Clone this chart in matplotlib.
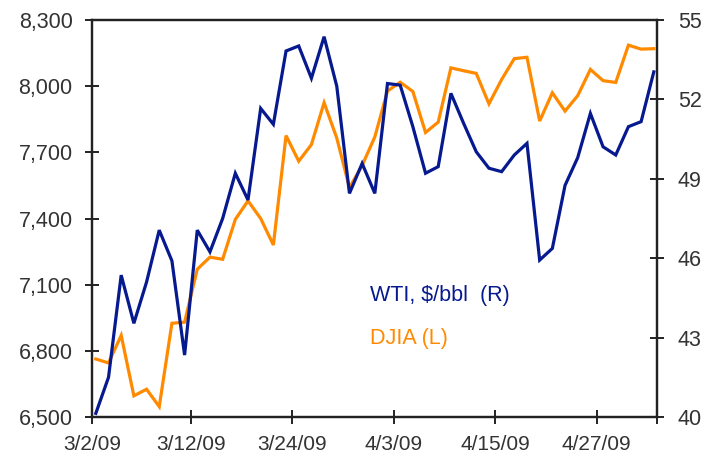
import matplotlib
matplotlib.use('Agg')
import matplotlib.pyplot as plt
import numpy as np

plt.rcParams['font.family'] = ['Liberation Sans', 'DejaVu Sans']

# trading days, 3/2/09 - 5/1/09
dates = ['3/2/09', '3/3/09', '3/4/09', '3/5/09', '3/6/09', '3/9/09', '3/10/09', '3/11/09',
         '3/12/09', '3/13/09', '3/16/09', '3/17/09', '3/18/09', '3/19/09', '3/20/09', '3/23/09',
         '3/24/09', '3/25/09', '3/26/09', '3/27/09', '3/30/09', '3/31/09', '4/1/09', '4/2/09',
         '4/3/09', '4/6/09', '4/7/09', '4/8/09', '4/9/09', '4/10/09', '4/13/09', '4/14/09',
         '4/15/09', '4/16/09', '4/17/09', '4/20/09', '4/21/09', '4/22/09', '4/23/09', '4/24/09',
         '4/27/09', '4/28/09', '4/29/09', '4/30/09', '5/1/09']

# DJIA (left axis)
djia = [6763, 6745, 6870, 6596, 6626, 6547, 6925, 6930, 7170, 7225,
        7215, 7396, 7480, 7400, 7280, 7776, 7660, 7735, 7925, 7765,
        7540, 7640, 7770, 7978, 8018, 7976, 7790, 7837, 8083, 8070,
        8058, 7920, 8030, 8125, 8131, 7842, 7970, 7887, 7957, 8076,
        8025, 8017, 8186, 8168, 8170]

# WTI, $/bbl (right axis)
wti = [40.14, 41.50, 45.36, 43.54, 45.10, 47.06, 45.90, 42.34, 47.06, 46.24,
       47.50, 49.21, 48.20, 51.66, 51.06, 53.83, 54.02, 52.80, 54.37, 52.50,
       48.45, 49.58, 48.45, 52.60, 52.54, 50.97, 49.21, 49.46, 52.23, 51.10,
       50.02, 49.40, 49.27, 49.90, 50.34, 45.93, 46.37, 48.75, 49.80, 51.47,
       50.21, 49.90, 50.97, 51.16, 53.04]

left_ticks = [6500, 6800, 7100, 7400, 7700, 8000, 8300]
right_ticks = [40, 43, 46, 49, 52, 55]

blue = '#06198F'
orange = '#FF8A00'
txt = '#333333'

x = np.arange(len(dates))

fig = plt.figure(figsize=(7.09, 4.58), dpi=100)
ax = fig.add_axes([0.1298, 0.0895, 0.7968, 0.8668])
ax2 = ax.twinx()

ax.plot(x, djia, color=orange, lw=2.3, solid_joinstyle='miter')
ax2.plot(x, wti, color=blue, lw=2.3, solid_joinstyle='miter')

ax.set_ylim(6500, 8300)
ax.set_yticks(left_ticks)
ax.set_yticklabels([f'{v:,}' for v in left_ticks])
ax2.set_ylim(40, 55)
ax2.set_yticks(right_ticks)

xlo, xhi = -0.3, 44.25
ax.set_xlim(xlo, xhi)
tick_pos = [xlo] + [i - 0.5 for i in range(8, len(dates), 8)] + [xhi]
ax.set_xticks(tick_pos)
ax.set_xticklabels(dates[0::8] + [''])

for a in (ax, ax2):
    for s in a.spines.values():
        s.set_linewidth(1.6)
        s.set_color('#222222')
    a.tick_params(direction='inout', length=10, width=1.4, color='#222222',
                  labelsize=15.5, labelcolor=txt, pad=9)
ax.tick_params(axis='x', pad=8, labelsize=15)
ax2.tick_params(axis='y', pad=10)

ax.text(0.492, 0.305, 'WTI, $/bbl  (R)', transform=ax.transAxes, color=blue,
        fontsize=15.5, va='center', ha='left')
ax.text(0.492, 0.199, 'DJIA (L)', transform=ax.transAxes, color=orange,
        fontsize=15.5, va='center', ha='left')

fig.savefig('out.png', dpi=100)
